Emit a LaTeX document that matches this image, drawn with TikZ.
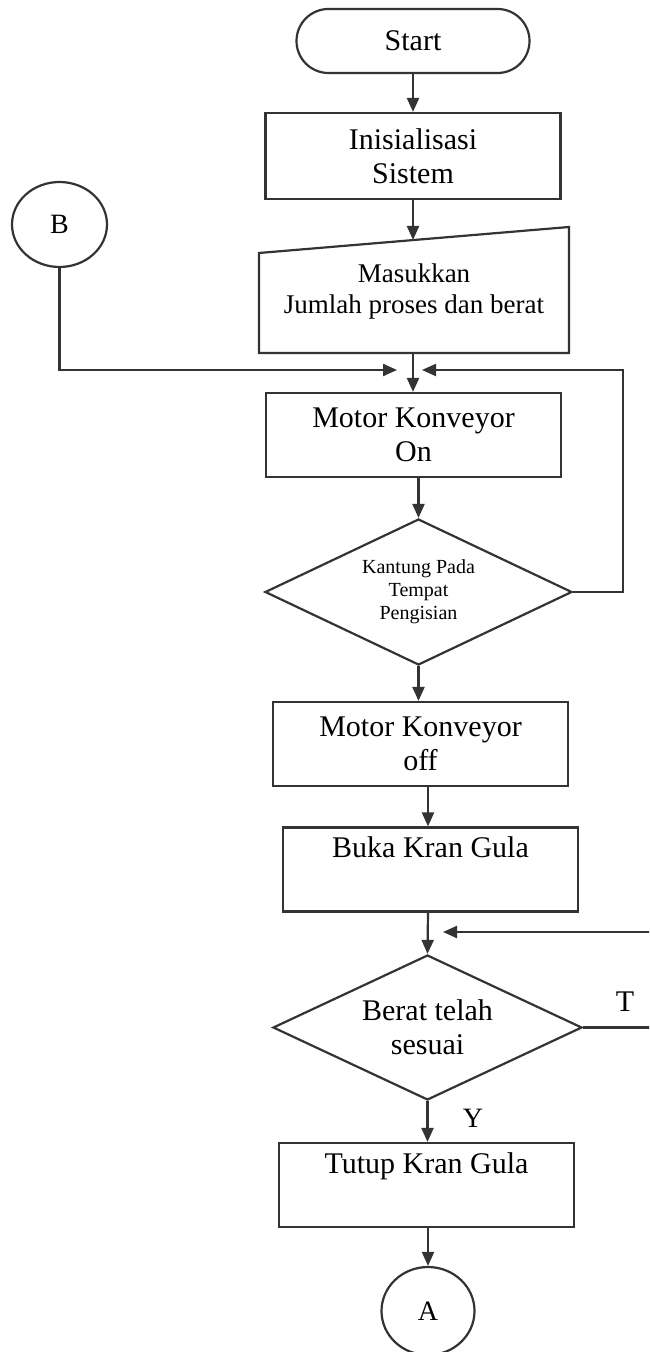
\documentclass[tikz,border=0pt]{standalone}
\usepackage{fontspec}
\setmainfont{Liberation Serif}
\usetikzlibrary{arrows.meta,shapes.geometric}

\tikzset{
	line/.style={draw=black!80, line width=1.1pt},
	arr/.style={line, -{Triangle[length=7pt,width=6pt]}},
	process/.style={rectangle, draw=black!80, line width=1.1pt, minimum width=147.5pt,
		minimum height=42pt, inner sep=2pt, align=center, font=\fontsize{15}{17}\selectfont},
	decision/.style={diamond, aspect=2.1, draw=black!80, line width=1.1pt, inner sep=0pt, align=center},
	terminal/.style={rectangle, rounded corners=16pt, draw=black!80, line width=1.1pt,
		minimum width=116.5pt, minimum height=32pt, font=\fontsize{15}{17}\selectfont},
	connector/.style={ellipse, draw=black!80, line width=1.1pt, inner sep=0pt,
		font=\fontsize{14}{16}\selectfont},
	lbl/.style={font=\fontsize{15}{17}\selectfont}
}

\begin{document}
\begin{tikzpicture}[x=0.5pt,y=-0.5pt]
	\useasboundingbox (0,0) rectangle (649,1352);
	\clip (0,0) rectangle (649,1352);

	\node[terminal] (start) at (413,41) {Start};
	\node[process, minimum height=43pt] (init) at (413,156) {Inisialisasi\\Sistem};

	% masukan data (manual input)
	\draw[line] (259,253) -- (569,227) -- (569,353) -- (259,353) -- cycle;
	\node[align=center, font=\fontsize{13.5}{15.5}\selectfont] (input) at (414,292)
		{Masukkan\\Jumlah proses dan berat};
	\coordinate (inTop) at (413,240);
	\coordinate (inBot) at (413,353);

	\node[connector, minimum width=47.5pt, minimum height=42.5pt] (B) at (59.5,224.5) {B};

	\node[process] (on) at (413.5,435) {Motor Konveyor\\On};
	\node[decision, minimum width=153.5pt, minimum height=73pt, font=\fontsize{10}{11.5}\selectfont]
		(d1) at (418.5,592) {Kantung Pada\\Tempat\\Pengisian};

	\node[process] (off) at (420.5,744) {Motor Konveyor\\off};
	\node[process] (buka) at (430.5,869.5) {Buka Kran Gula\\\strut};
	\node[decision, minimum width=154.5pt, minimum height=72.5pt, font=\fontsize{15}{17}\selectfont]
		(d2) at (427.5,1027.5) {Berat telah\\sesuai};
	\node[process] (tutup) at (426.5,1185) {Tutup Kran Gula\\\strut};
	\node[connector, minimum width=46.5pt, minimum height=44pt] (A) at (428,1311) {A};

	\node[lbl] (lblT) at (625,1002) {T};
	\node[lbl, font=\fontsize{14}{16}\selectfont] (lblY) at (473,1118) {Y};

	% alur utama
	\draw[arr] (start) -- (init);
	\draw[arr] (init) -- (inTop);
	\draw[arr] (inBot) -- (on.north -| inBot);
	\draw[arr] (d1.north |- on.south) -- (d1.north);
	\draw[arr] (d1.south) -- (off.north -| d1.south);
	\draw[arr] (428,786) -- (buka.north -| 428,0);
	\draw[arr] (428,911) -- (d2.north);
	\draw[arr] (d2.south) -- (tutup.north -| d2.south);
	\draw[arr] (428,1227) -- (A.north);

	% loop
	\coordinate (jl) at (397,370);
	\coordinate (jr) at (422,370);
	\draw[arr] (B.south) |- (jl);
	\draw[arr] (d1.east) -- (623,592) |- (jr);
	\coordinate (tTip) at (443,932);
	\draw[arr] (d2.east) -- (660,1027.5) |- (tTip);
\end{tikzpicture}
\end{document}
